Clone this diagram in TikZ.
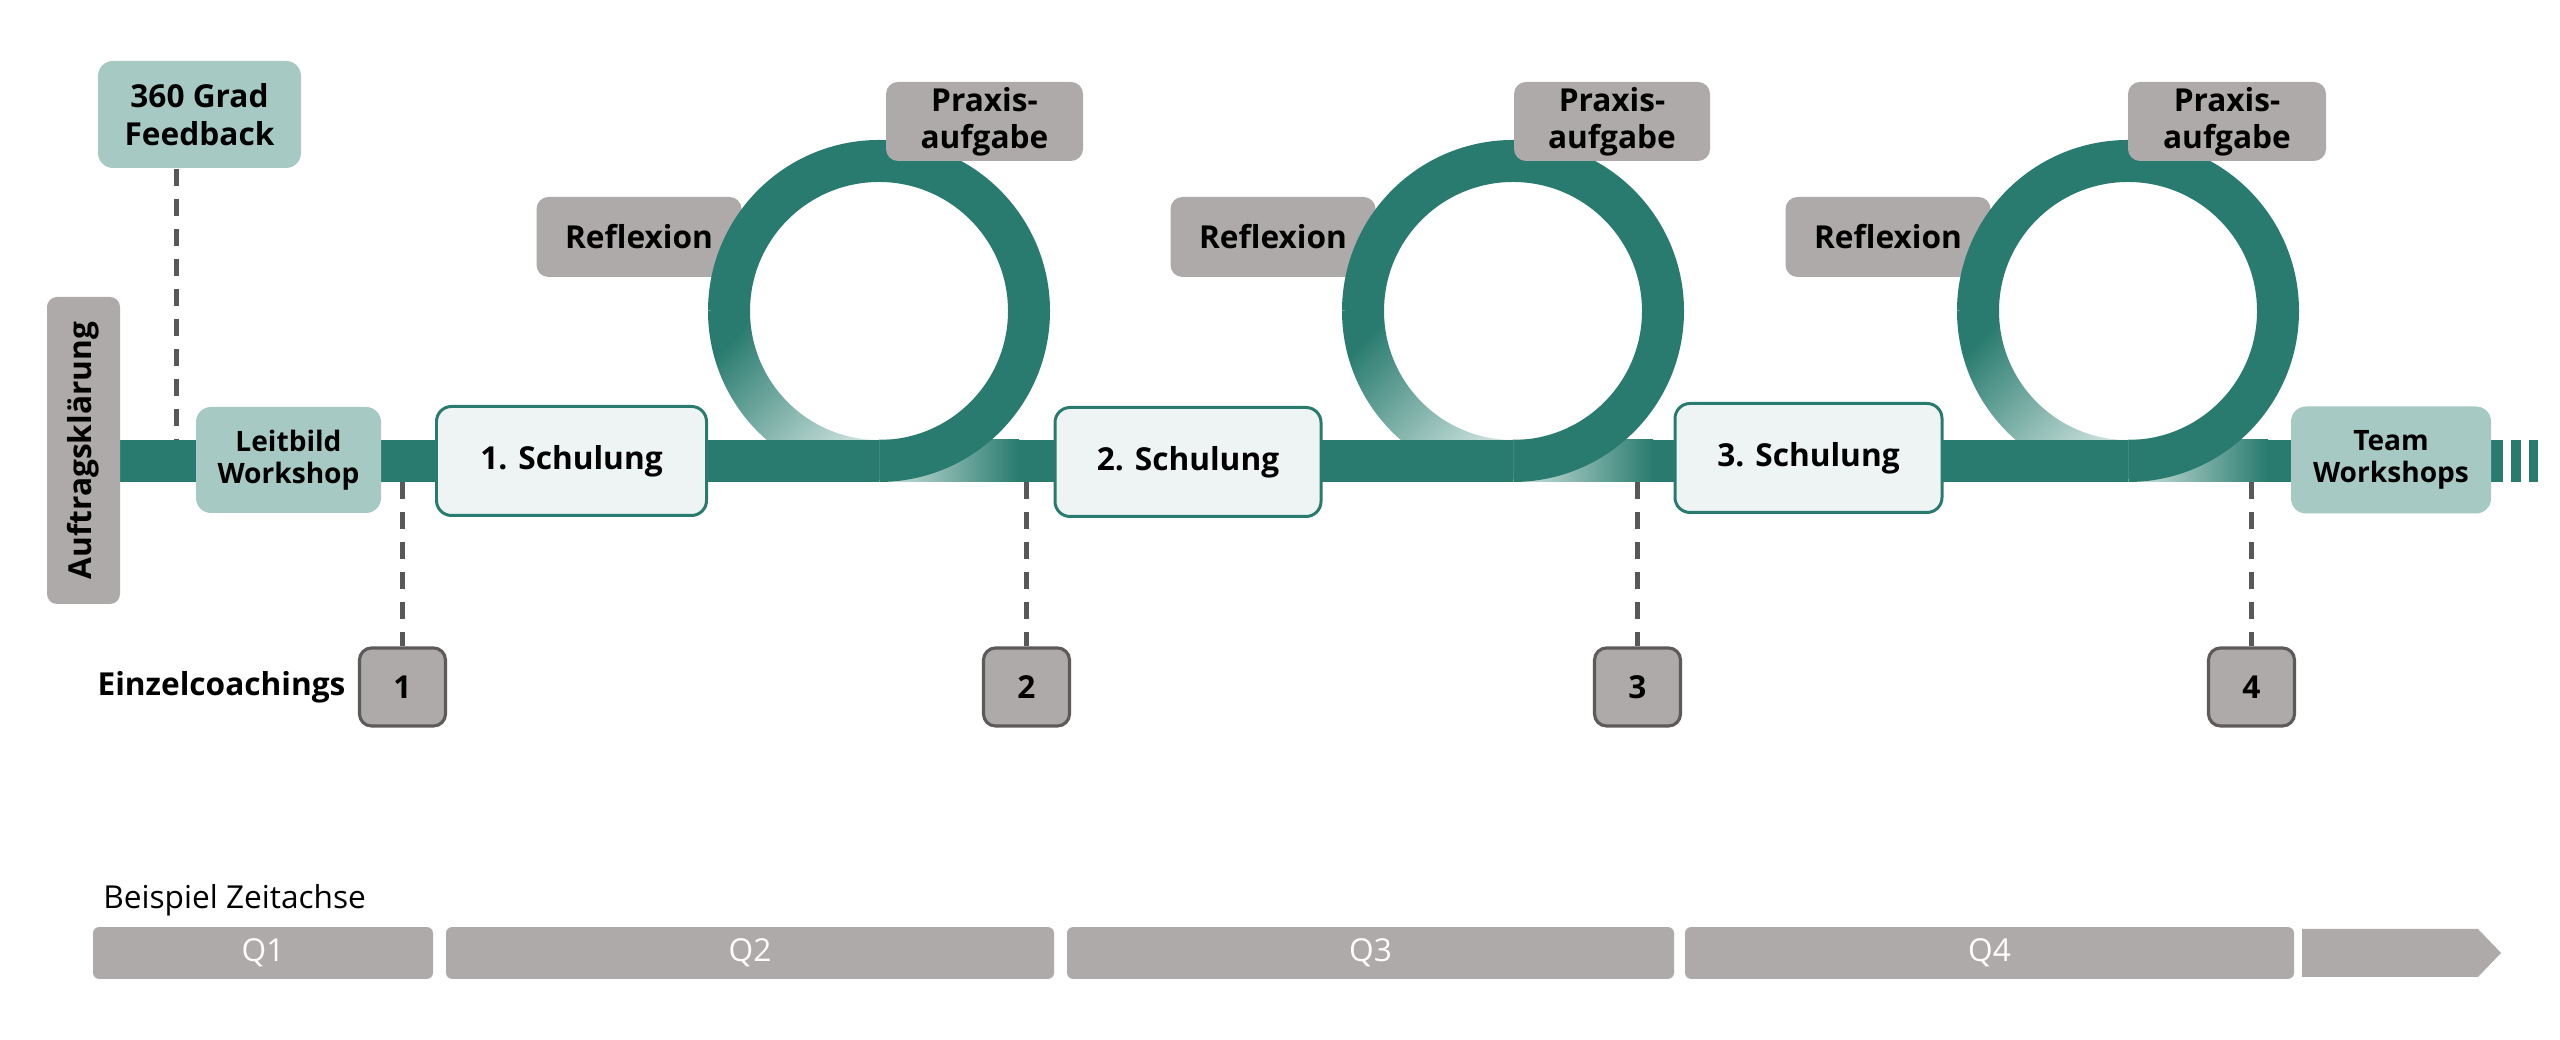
\documentclass[tikz,border=0pt]{standalone}
\usepackage{fontspec}
\setmainfont{Open Sans}
\usepackage{tikz}
\usetikzlibrary{positioning}
\definecolor{pathteal}{HTML}{297B6F}
\definecolor{fadeteal}{HTML}{D3E6E2}
\definecolor{paleteal}{HTML}{A7C9C4}
\definecolor{mist}{HTML}{EDF4F3}
\definecolor{boxgray}{HTML}{AEAAA9}
\definecolor{rimgray}{HTML}{5E5A5A}
\definecolor{leadgray}{HTML}{58575A}
\tikzset{
  every picture/.style = {
    thick,
    node distance = 0.11cm and 0.11cm,
  }
  ,
  track/.style = {
    draw = pathteal,
    line width = 0.42cm
  }
  ,
  leader/.style = {
    draw = leadgray,
    line width = 0.05cm,
    dash pattern = on 0.17cm off 0.13cm
  }
  , % grey labels round the loops
  gray-box/.style = {
    rectangle,
    rounded corners = 0.12cm,
    fill = boxgray,
    font = \fontsize{9pt}{10.5pt}\selectfont\bfseries,
    align = center,
    inner sep = 0pt,
    minimum width = 2.05cm,
    minimum height = 0.8cm
  }
  , % light teal stations
  sea-box/.style = {
    rectangle,
    rounded corners = 0.15cm,
    fill = paleteal,
    font = \fontsize{8pt}{9.2pt}\selectfont\bfseries,
    align = center,
    inner sep = 0pt
  }
  ,
  schulung/.style = {
    rectangle,
    rounded corners = 0.15cm,
    fill = mist,
    draw = pathteal,
    line width = 0.85pt,
    font = \fontsize{9pt}{10.5pt}\selectfont\bfseries,
    minimum width = 2.7cm,
    minimum height = 1.09cm
  }
  , % numbered coachings
  coach-box/.style = {
    rectangle,
    rounded corners = 0.12cm,
    fill = boxgray,
    draw = rimgray,
    line width = 0.9pt,
    font = \fontsize{9pt}{10.5pt}\selectfont\bfseries,
    minimum width = 0.86cm,
    minimum height = 0.78cm
  }
  ,
  quarter-bar/.style = {
    rectangle,
    rounded corners = 0.06cm,
    fill = boxgray,
    text = white,
    font = \fontsize{9pt}{10pt}\selectfont,
    minimum height = 0.48cm
  }
}
\begin{document}
\begin{tikzpicture}
    \useasboundingbox (0,0) rectangle (25.6,10.4);
    \coordinate (c1) at (8.79,7.29);
    \coordinate (c2) at (15.13,7.29);
    \coordinate (c3) at (21.28,7.29);
    \coordinate (b1) at (8.79,5.79);
    \coordinate (b2) at (15.13,5.79);
    \coordinate (b3) at (21.28,5.79);
    \coordinate (start) at (1.20,5.79);
    \coordinate (stop) at (25.03,5.79);
    \coordinate (low) at (0,5.58);
    \coordinate (fb-foot) at (1.76,6.0);

    \node[gray-box] at (6.39,8.03) (refl1) {Reflexion};
    \node[gray-box] at (12.73,8.03) (refl2) {Reflexion};
    \node[gray-box] at (18.88,8.03) (refl3) {Reflexion};

    % fading track behind each loop
    \shade[left color=fadeteal, right color=pathteal] (b1) ++(0,-0.21) rectangle ++(1.4,0.42);
    \shade[left color=fadeteal, right color=pathteal] (b2) ++(0,-0.21) rectangle ++(1.4,0.42);
    \shade[left color=fadeteal, right color=pathteal] (b3) ++(0,-0.21) rectangle ++(1.4,0.42);

    % loops
    \draw[track] (b1) arc (-90:180:1.5);
    \draw[track] (b2) arc (-90:180:1.5);
    \draw[track] (b3) arc (-90:180:1.5);
    \shade[top color=pathteal, bottom color=fadeteal, shading angle=45] (b1) ++(0,-0.21) arc (-90:-180:1.71) -- ++(0.42,0) arc (180:270:1.29) -- cycle;
    \shade[top color=pathteal, bottom color=fadeteal, shading angle=45] (b2) ++(0,-0.21) arc (-90:-180:1.71) -- ++(0.42,0) arc (180:270:1.29) -- cycle;
    \shade[top color=pathteal, bottom color=fadeteal, shading angle=45] (b3) ++(0,-0.21) arc (-90:-180:1.71) -- ++(0.42,0) arc (180:270:1.29) -- cycle;

    \draw[track] (start) -- (b1);
    \draw[track] ([xshift=1.4cm]b1) -- (b2);
    \draw[track] ([xshift=1.4cm]b2) -- (b3);
    \draw[track] ([xshift=1.4cm]b3) -- (stop);
    \draw[track, dash pattern=on 0.10cm off 0.08cm] ([xshift=0.08cm]stop) -- ++(0.27,0);

    \node[gray-box, rotate=90, rounded corners=0.1cm, minimum width=3.07cm, minimum height=0.73cm] at (0.835,5.895) (auftrag) {Auftragsklärung};
    \node[sea-box, font=\fontsize{9pt}{10.8pt}\selectfont\bfseries, minimum width=2.03cm, minimum height=1.07cm] at (1.995,9.255) (fb) {360 Grad\\Feedback};
    \node[sea-box, minimum width=1.85cm, minimum height=1.06cm] at (2.885,5.80) (leit) {Leitbild\\Workshop};
    \node[schulung] at (5.715,5.79) (s1) {1. Schulung};
    \node[schulung, minimum width=2.66cm] at (11.88,5.78) (s2) {2. Schulung};
    \node[schulung, minimum width=2.67cm] at (18.085,5.82) (s3) {3. Schulung};
    \node[sea-box, minimum width=2.0cm, minimum height=1.07cm] at (23.91,5.80) (team) {Team\\Workshops};

    \node[gray-box, minimum width=1.97cm, minimum height=0.79cm] at (9.845,9.185) (prax1) {Praxis-\\aufgabe};
    \node[gray-box, minimum width=1.96cm, minimum height=0.79cm] at (16.12,9.185) (prax2) {Praxis-\\aufgabe};
    \node[gray-box, minimum width=1.98cm, minimum height=0.79cm] at (22.27,9.185) (prax3) {Praxis-\\aufgabe};

    \draw[leader] (fb-foot |- fb.south) -- (fb-foot);

    \node[coach-box] at (4.025,3.53) (ec1) {1};
    \node[coach-box] at (10.265,3.53) (ec2) {2};
    \node[coach-box] at (16.375,3.53) (ec3) {3};
    \node[coach-box] at (22.515,3.53) (ec4) {4};
    \draw[leader] (low -| ec1.north) -- (ec1.north);
    \draw[leader] (low -| ec2.north) -- (ec2.north);
    \draw[leader] (low -| ec3.north) -- (ec3.north);
    \draw[leader] (low -| ec4.north) -- (ec4.north);
    \node[left = of ec1, inner sep=0pt, font=\fontsize{9pt}{10.5pt}\selectfont\bfseries] (ecl) {Einzelcoachings};

    % time axis
    \node[anchor=west, inner sep=0pt, font=\fontsize{9pt}{10.5pt}\selectfont] at (1.02,1.40) (axis) {Beispiel Zeitachse};
    \node[quarter-bar, minimum width=3.40cm] at (2.63,0.87) (q1) {Q1};
    \node[quarter-bar, minimum width=6.08cm] at (7.50,0.87) (q2) {Q2};
    \node[quarter-bar, minimum width=6.07cm] at (13.705,0.87) (q3) {Q3};
    \node[quarter-bar, minimum width=6.09cm] at (19.895,0.87) (q4) {Q4};
    \fill[boxgray] (23.02,0.63) -- (24.78,0.63) -- (25.01,0.87) -- (24.78,1.11) -- (23.02,1.11) -- cycle;
    \end{tikzpicture}
\end{document}
